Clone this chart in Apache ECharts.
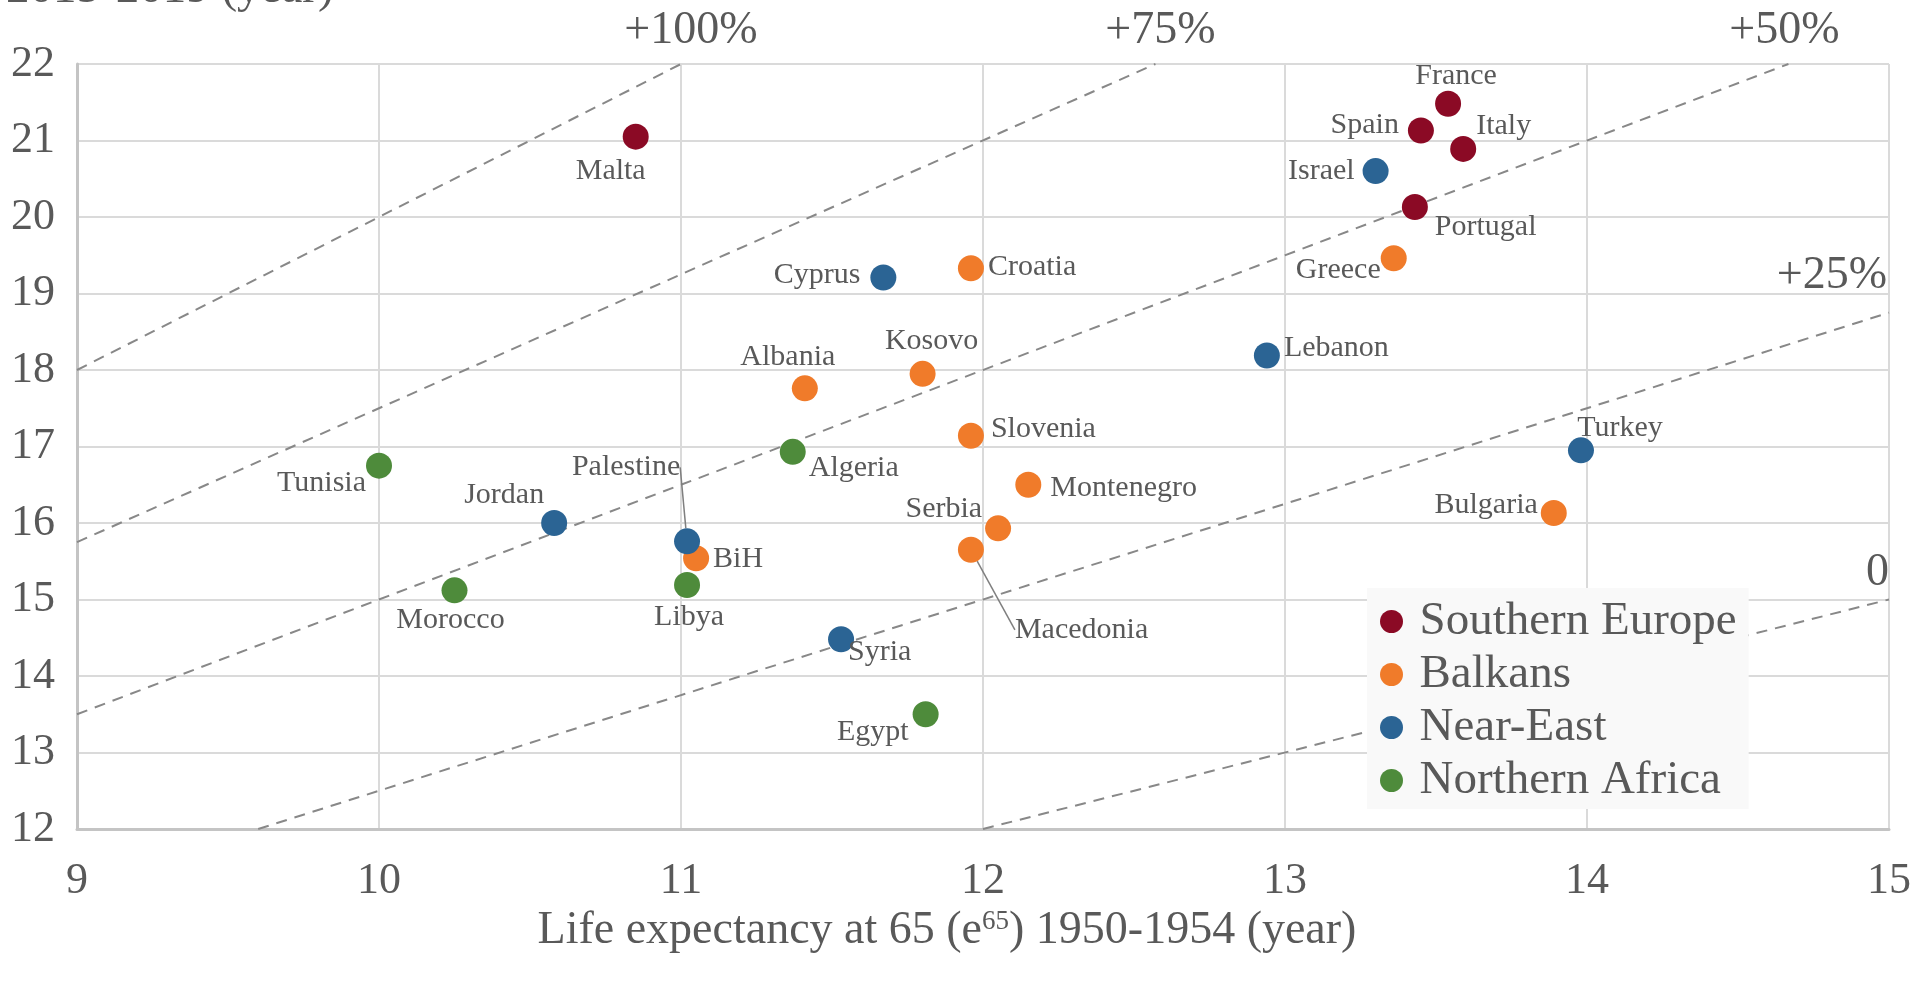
<!DOCTYPE html>
<html>
<head>
<meta charset="utf-8">
<script src="https://cdn.jsdelivr.net/npm/echarts@6/dist/echarts.min.js"></script>
<style>
  html, body { margin: 0; padding: 0; background: #fff; }
  #chart { width: 1917px; height: 990px; }
</style>
</head>
<body>
<div id="chart"></div>
<script>
// Southern Europe
const southNames = ['France', 'Spain', 'Italy', 'Portugal', 'Malta']
const southX = [13.54, 13.45, 13.59, 13.43, 10.85]
const southY = [21.48, 21.13, 20.89, 20.13, 21.05]

// Balkans
const balkanNames = ['Greece', 'Croatia', 'Albania', 'Kosovo', 'Slovenia', 'Montenegro', 'Serbia', 'Macedonia', 'BiH', 'Bulgaria']
const balkanX = [13.36, 11.96, 11.41, 11.80, 11.96, 12.15, 12.05, 11.96, 11.05, 13.89]
const balkanY = [19.46, 19.33, 17.76, 17.95, 17.14, 16.50, 15.93, 15.65, 15.54, 16.13]

// Near-East
const nearNames = ['Israel', 'Cyprus', 'Lebanon', 'Turkey', 'Jordan', 'Palestine', 'Syria']
const nearX = [13.30, 11.67, 12.94, 13.98, 10.58, 11.02, 11.53]
const nearY = [20.60, 19.21, 18.19, 16.95, 16.00, 15.76, 14.48]

// Northern Africa
const africaNames = ['Tunisia', 'Algeria', 'Morocco', 'Libya', 'Egypt']
const africaX = [10.00, 11.37, 10.25, 11.02, 11.81]
const africaY = [16.75, 16.93, 15.12, 15.19, 13.50]

// growth reference lines, start and end point of each
const refNames = ['0', '+25%', '+50%', '+75%', '+100%']
const refStart = [[12, 12], [9.6, 12], [9, 13.5], [9, 15.75], [9, 18]]
const refEnd = [[15, 15], [15, 18.75], [14.667, 22], [12.571, 22], [11, 22]]

const groups = ['Southern Europe', 'Balkans', 'Near-East', 'Northern Africa']
const colors = ['#8b0a25', '#f07b2a', '#2b6494', '#4e8b3b']

const FONT = "'Liberation Serif', 'Times New Roman', serif"
const GRAY = '#595959'

// where each country label sits: [position, dx, dy]
const labelPlace = {
  France: ['top', 8, 5],
  Spain: ['left', -4, -5],
  Italy: ['right', -5, -23],
  Portugal: ['right', 2, 20],
  Malta: ['bottom', -25, 1],
  Greece: ['left', 5, 12],
  Croatia: ['right', -1, -1],
  Albania: ['top', -17, 2],
  Kosovo: ['top', 9, 0],
  Slovenia: ['right', 2, -7],
  Montenegro: ['right', 4, 3],
  Serbia: ['left', 2, -19],
  Macedonia: ['right', 26, 80],
  BiH: ['right', -1, 1],
  Bulgaria: ['left', 2, -8],
  Israel: ['left', -3, 0],
  Cyprus: ['left', -5, -2],
  Lebanon: ['right', -1, -7],
  Turkey: ['top', 39, 11],
  Jordan: ['left', 8, -28],
  Palestine: ['top', -61, -41],
  Syria: ['right', -11, 13],
  Tunisia: ['left', 5, 17],
  Algeria: ['right', -2, 16],
  Morocco: ['bottom', -4, -3],
  Libya: ['bottom', 2, -1],
  Egypt: ['left', 1, 18]
}
const guided = ['Macedonia', 'Palestine']

// ref line label placement: [position, align, dx, distance]
const refLabelPlace = {
  '0': ['top', 'right', 0, 4],
  '+25%': ['top', 'right', -2, 14],
  '+50%': ['top', 'center', -4, 10],
  '+75%': ['top', 'center', 5, 10],
  '+100%': ['top', 'center', 10, 10]
}

const makePoints = (names, xs, ys) => names.map((n, i) => ({
  name: n,
  value: [xs[i], ys[i]],
  label: { position: labelPlace[n][0] },
  labelLine: { show: guided.includes(n) }
}))

const pointSets = [
  makePoints(southNames, southX, southY),
  makePoints(balkanNames, balkanX, balkanY),
  makePoints(nearNames, nearX, nearY),
  makePoints(africaNames, africaX, africaY)
]

const refSeries = refNames.map((n, i) => {
  const lp = refLabelPlace[n]
  return {
    name: n,
    type: 'line',
    silent: true,
    symbol: 'circle',
    symbolSize: 0.1,
    showSymbol: true,
    z: 1,
    itemStyle: { color: 'rgba(0,0,0,0)' },
    lineStyle: { color: '#888888', width: 2, type: [11, 8] },
    data: [
      { value: refStart[i], label: { show: false } },
      {
        value: refEnd[i],
        label: {
          show: true,
          formatter: n,
          position: lp[0],
          align: lp[1],
          offset: [lp[2], 0],
          distance: lp[3],
          fontFamily: FONT,
          fontSize: 46,
          color: GRAY
        }
      }
    ]
  }
})

const scatterSeries = groups.map((g, k) => ({
  name: g,
  type: 'scatter',
  symbolSize: 26,
  z: 3,
  itemStyle: { color: colors[k], opacity: 1 },
  label: {
    show: true,
    formatter: '{b}',
    fontFamily: FONT,
    fontSize: 30,
    color: GRAY,
    distance: 5
  },
  labelLine: {
    lineStyle: { color: '#7f7f7f', width: 1.5 }
  },
  labelLayout: function (params) {
    const p = labelPlace[params.text]
    if (!p) return {}
    return { dx: p[1], dy: p[2] }
  },
  data: pointSets[k]
}))

var chartDom = document.getElementById('chart')
var myChart = echarts.init(chartDom)

const option = {
  animation: false,
  backgroundColor: '#fff',
  textStyle: { fontFamily: FONT },
  grid: {
    left: 77,
    right: 28,
    top: 64,
    bottom: 161
  },
  legend: {
    data: groups,
    orient: 'vertical',
    left: 1367,
    top: 588,
    padding: [10, 12, 5, 13],
    itemGap: 6,
    itemWidth: 46,
    itemHeight: 23,
    icon: 'circle',
    backgroundColor: '#f9f9f9',
    selectedMode: false,
    textStyle: {
      fontFamily: FONT,
      fontSize: 47,
      lineHeight: 47,
      color: GRAY
    }
  },
  xAxis: {
    type: 'value',
    min: 9,
    max: 15,
    interval: 1,
    axisLine: { show: true, lineStyle: { color: '#c4c4c4', width: 3 } },
    axisTick: { show: false },
    splitLine: { show: true, lineStyle: { color: '#dadada', width: 2 } },
    axisLabel: { fontFamily: FONT, fontSize: 44, color: GRAY, margin: 30 }
  },
  yAxis: {
    type: 'value',
    min: 12,
    max: 22,
    interval: 1,
    axisLine: { show: true, lineStyle: { color: '#c4c4c4', width: 3 } },
    axisTick: { show: false },
    splitLine: { show: true, lineStyle: { color: '#dadada', width: 2 } },
    axisLabel: { fontFamily: FONT, fontSize: 44, color: GRAY, margin: 22 }
  },
  graphic: [
    {
      type: 'text',
      x: 947,
      y: 931,
      style: {
        text: 'Life expectancy at 65 (e{sup|65}) 1950-1954 (year)',
        font: '46px ' + FONT,
        fill: GRAY,
        align: 'center',
        verticalAlign: 'middle',
        rich: {
          sup: {
            fontFamily: FONT,
            fontSize: 27,
            fill: GRAY,
            verticalAlign: 'top',
            lineHeight: 46
          }
        }
      }
    },
    {
      type: 'text',
      x: 6,
      y: 13,
      style: {
        text: '2015-2019 (year)',
        font: '47px ' + FONT,
        fill: GRAY,
        align: 'left',
        verticalAlign: 'bottom'
      }
    }
  ],
  series: [...refSeries, ...scatterSeries]
}

option && myChart.setOption(option)
</script>
</body>
</html>
